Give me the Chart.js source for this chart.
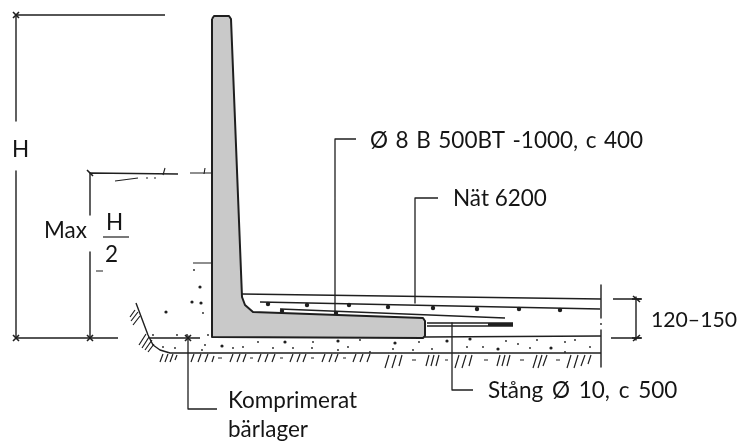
<!DOCTYPE html>
<html>
<head>
<meta charset="utf-8">
<style>
  html, body { margin: 0; padding: 0; background: #fff; }
  canvas { display: block; filter: blur(0.35px); }
</style>
<script src="https://cdn.jsdelivr.net/npm/chart.js@4"></script>
</head>
<body>
<canvas id="drawing" width="742" height="441"></canvas>
<script>
const wallOutline = [212,19, 214,16, 229,16, 231,19, 242,297, 245,305, 253,312, 423,318, 425,321, 425,336, 423,338, 212,337, 212,19];
const groundCurve = [136,303, 148,335, 153,345, 160,350, 170,353, 300,353, 450,353, 601,353];
const floorLines = [
  [242,294, 601,299],
  [260,302, 600,309],
  [280,309, 505,318],
  [427,323, 513,323],
  [427,326, 513,326],
  [488,324.5, 513,324.5],
  [425,337, 601,336]
];
const dimensionLines = [
  [15,15, 165,15], [16,15, 16,121], [16,171, 16,338], [15,338, 118,338],
  [90,173, 178,174], [90,173, 90,215], [90,252, 90,338], [150,338, 200,338],
  [601,285, 601,318], [601,330, 601,367],
  [613,299, 642,299], [611,338, 642,338], [636,297, 636,340]
];
const fractionBar = [[103,237, 129,237]];
const leaders = [
  [356,139, 335,139, 335,313],
  [438,198, 415,198, 415,303],
  [452,323, 452,390, 473,390],
  [188,336, 188,409, 217,409]
];
const tickMarks = [
  [13,12, 19,18], [13,18, 19,12], [13,341, 19,335], [13,335, 19,341],
  [87,170, 93,176], [87,341, 93,335], [87,335, 93,341],
  [185,335, 191,341], [185,341, 191,335], [633,296, 640,302], [633,341, 640,335], [632,299, 641,299], [632,338, 641,338]
];
const surfaceMarks = [
  [190,173, 212,173], [115,181, 138,178], [146,178, 148,178], [154,178, 156,178],
  [165,168, 163,175], [205,168, 204,174], [96,271, 103,271], [193,263, 212,263]
];
const hatching = [
  [130,317, 135,310], [131,321, 138,312], [133,325, 140,316],
  [139,345, 146,334], [142,348, 149,337], [145,350, 152,340], [148,352, 154,344],
  [160,362, 163,354], [165,362, 168,354], [170,362, 173,354], [175,360, 177,355],
  [191,362, 194,354], [198,362, 201,354], [205,362, 208,354], [212,362, 214,356], [218,358, 222,358],
  [230,362, 233,354], [237,362, 240,354], [243,362, 246,354], [250,358, 253,358],
  [258,362, 261,354], [265,362, 268,354], [272,362, 275,354], [280,358, 283,358],
  [290,362, 293,354], [297,362, 300,354], [303,362, 306,354], [311,358, 314,358],
  [322,362, 325,354], [329,362, 332,354], [335,362, 338,354], [343,358, 346,358],
  [353,362, 356,354], [360,362, 363,354], [367,362, 370,354],
  [385,368, 389,355], [392,368, 396,355], [399,366, 402,355], [412,360, 416,360],
  [426,366, 429,355], [431,366, 434,355], [436,366, 439,355], [445,360, 448,360],
  [455,368, 459,355], [462,368, 466,355], [469,366, 472,355], [484,360, 488,360],
  [497,366, 500,355], [502,366, 505,355], [507,366, 510,355], [520,360, 524,360],
  [533,368, 537,355], [538,368, 542,355], [543,366, 547,355], [556,360, 560,360],
  [567,368, 571,355], [574,368, 578,355], [581,366, 585,355], [588,364, 591,355]
];
const rebarDots = [268,304, 307,305, 349,305, 388,307, 433,308, 477,309, 519,309, 560,310, 282,311, 336,313];
const largeStones = [200,287, 201,303, 192,302, 166,312, 222,346, 285,342, 338,341, 395,343, 447,341, 470,339, 498,349, 551,348];
const smallStones = [
  194,270, 203,313, 208,335, 205,345, 202,350, 233,348, 243,347, 258,342, 273,348, 293,348, 312,348, 313,342,
  338,350, 360,340, 348,347, 370,352, 175,348, 163,347, 153,335, 177,335, 187,335, 419,342, 393,349, 413,350,
  432,349, 467,347, 483,347, 518,344, 530,348, 537,340, 565,342, 575,340, 590,347, 565,352, 506,341, 601,324
];

const labelTexts = ['H', 'Max', 'H', '2', 'Ø 8 B 500BT -1000, c 400', 'Nät 6200', '120–150', 'Stång Ø 10, c 500', 'Komprimerat', 'bärlager'];
const labelX = [12, 44, 106, 105, 370, 453, 651, 488, 228, 228];
const labelY = [157, 238, 230, 262, 148, 206, 327, 398, 408, 437];

const inkColor = '#1f1f1f';
const wallColor = '#c9c9c9';

// turn flat x,y lists into chart points, a null point breaks the line
function toPoints(flat) {
  const points = [];
  for (let i = 0; i < flat.length; i += 2) {
    points.push({ x: flat[i], y: flat[i + 1] });
  }
  return points;
}

function toSegments(lines) {
  const points = [];
  lines.forEach(line => {
    points.push(...toPoints(line));
    points.push({ x: null, y: null });
  });
  return points;
}

function lineSet(data, width) {
  return {
    data: data,
    showLine: true,
    fill: false,
    spanGaps: false,
    borderColor: inkColor,
    borderWidth: width,
    pointRadius: 0,
    borderJoinStyle: 'round'
  };
}

function dotSet(flat, radius) {
  return {
    data: toPoints(flat),
    showLine: false,
    pointRadius: radius,
    pointBackgroundColor: inkColor,
    pointBorderWidth: 0
  };
}

// the texts go on top, placed through the chart's own scales
const labelPlugin = {
  id: 'labels',
  afterDatasetsDraw(chart) {
    const ctx = chart.ctx;
    ctx.save();
    ctx.fillStyle = '#151515';
    ctx.textBaseline = 'alphabetic';
    labelTexts.forEach((text, i) => {
      ctx.font = (text === '120–150') ? '21.2px Lato' : '22.5px Lato';
      ctx.wordSpacing = '0px';
      if (text.indexOf('Ø') >= 0) {
        ctx.wordSpacing = text.startsWith('Ø') ? '1.8px' : '3px';
      }
      ctx.fillText(text, chart.scales.x.getPixelForValue(labelX[i]), chart.scales.y.getPixelForValue(labelY[i]));
    });
    ctx.restore();
  }
};

new Chart(document.getElementById('drawing'), {
  type: 'scatter',
  data: {
    datasets: [
      Object.assign(lineSet(toPoints(wallOutline), 2), { type: 'line', fill: 'shape', backgroundColor: wallColor }),
      lineSet(toPoints(groundCurve), 1.4),
      lineSet(toSegments(floorLines), 1.4),
      lineSet(toSegments(dimensionLines), 1.4),
      lineSet(toSegments(fractionBar), 1.2),
      lineSet(toSegments(leaders), 1.3),
      lineSet(toSegments(tickMarks), 1.6),
      lineSet(toSegments(surfaceMarks), 1.1),
      lineSet(toSegments(hatching), 1.2),
      dotSet(rebarDots, 2.2),
      dotSet(largeStones, 1.6),
      dotSet(smallStones, 0.9)
    ]
  },
  options: {
    responsive: false,
    animation: false,
    layout: { padding: 0, autoPadding: false },
    plugins: { legend: { display: false }, tooltip: { enabled: false } },
    scales: {
      x: { type: 'linear', min: 0, max: 742, display: false },
      y: { type: 'linear', min: 0, max: 441, reverse: true, display: false }
    }
  },
  plugins: [labelPlugin]
});
</script>
</body>
</html>
